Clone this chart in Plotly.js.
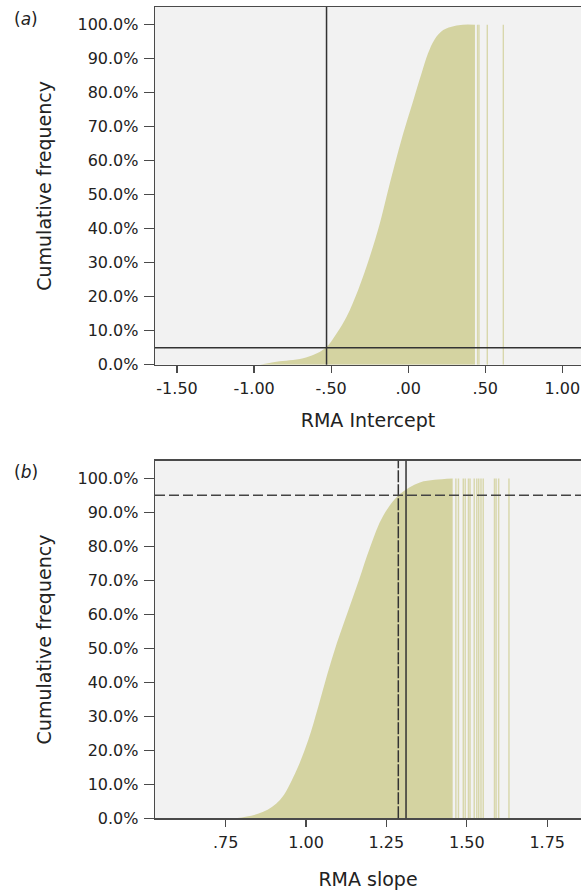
<!DOCTYPE html>
<html><head><meta charset="utf-8">
<script src="https://cdn.plot.ly/plotly-3.0.1.min.js"></script>
<style>html,body{margin:0;padding:0;background:#fff}#chart{width:581px;height:894px}</style>
</head><body><div id="chart"></div>
<script>
// (a) RMA Intercept – cumulative frequency outline (x, %)
const interceptX   = [-0.96, -0.855, -0.682, -0.541, -0.465, -0.40, -0.325, -0.249, -0.184, -0.138, -0.088, -0.034, 0.028, 0.085, 0.128, 0.170, 0.227, 0.30, 0.355, 0.433];
const interceptCum = [0,      0.9,    1.9,    4.8,    9.2,    14.1,  22.0,   31.8,   41.6,   50.0,   58.8,   67.8,   77.0,  85.5,  91.5,  95.6,  98.4,  99.6, 100,   100];
const interceptTailX   = [0.450, 0.459, 0.513, 0.617];
const interceptTailCum = [100, 100, 100, 100];
const interceptRefX = -0.53;
const interceptRefY = 5;

// (b) RMA slope
const slopeX   = [0.78, 0.816, 0.867, 0.919, 0.966, 1.007, 1.038, 1.066, 1.096, 1.130, 1.165, 1.199, 1.240, 1.292, 1.354, 1.40, 1.456];
const slopeCum = [0,    0.5,   1.9,   5.4,   13.2,  23.0,  32.8,  42.3,  51.6,  60.8,  70.2,  79.7,  89.0,  95.4,  98.8,  99.6, 100];
const slopeTailX   = [1.466, 1.474, 1.489, 1.495, 1.505, 1.510, 1.523, 1.531, 1.537, 1.544, 1.551, 1.586, 1.591, 1.599, 1.631];
const slopeTailCum = [100, 100, 100, 100, 100, 100, 100, 100, 100, 100, 100, 100, 100, 100, 100];
const slopeRefDashedX = 1.287;
const slopeRefSolidX  = 1.311;
const slopeRefY = 95;

// ticks
const yTickVals = [0, 10, 20, 30, 40, 50, 60, 70, 80, 90, 100];
const yTickText = ['0.0%', '10.0%', '20.0%', '30.0%', '40.0%', '50.0%', '60.0%', '70.0%', '80.0%', '90.0%', '100.0%'];
const interceptTickVals = [-1.5, -1.0, -0.5, 0, 0.5, 1.0];
const interceptTickText = ['-1.50', '-1.00', '-.50', '.00', '.50', '1.00'];
const slopeTickVals = [0.75, 1.0, 1.25, 1.5, 1.75];
const slopeTickText = ['.75', '1.00', '1.25', '1.50', '1.75'];

const FILL = '#d4d3a1';
const TAIL = '#d8d7ac';
const LINE = '#333333';
const AX = '#4a4a4a';
const FONT = 'DejaVu Sans';

const traces = [
  {x: interceptX, y: interceptCum, xaxis: 'x', yaxis: 'y', type: 'scatter', mode: 'lines',
   fill: 'tozeroy', fillcolor: FILL, line: {width: 0, color: FILL, shape: 'spline', smoothing: 1}, hoverinfo: 'skip'},
  {x: interceptTailX, y: interceptTailCum, xaxis: 'x', yaxis: 'y', type: 'bar',
   width: 0.009, marker: {color: TAIL, line: {width: 0}}, hoverinfo: 'skip'},
  {x: slopeX, y: slopeCum, xaxis: 'x2', yaxis: 'y2', type: 'scatter', mode: 'lines',
   fill: 'tozeroy', fillcolor: FILL, line: {width: 0, color: FILL, shape: 'spline', smoothing: 1}, hoverinfo: 'skip'},
  {x: slopeTailX, y: slopeTailCum, xaxis: 'x2', yaxis: 'y2', type: 'bar',
   width: 0.0045, marker: {color: TAIL, line: {width: 0}}, hoverinfo: 'skip'}
];

function xAxis(range, vals, text, title, anchor, standoff) {
  return {
    domain: [155/581, 1], anchor: anchor, range: range,
    tickmode: 'array', tickvals: vals, ticktext: text,
    ticks: 'outside', ticklen: 7, tickwidth: 1.3, tickcolor: AX,
    ticklabelstandoff: 2,
    showline: true, linecolor: AX, linewidth: 1.3, mirror: true,
    showgrid: false, zeroline: false,
    tickfont: {family: FONT, size: 16, color: '#222'},
    title: {text: title, font: {family: FONT, size: 19, color: '#222'}, standoff: standoff}
  };
}
function yAxis(domain, anchor) {
  return {
    domain: domain, anchor: anchor, range: [0, 105.2],
    tickmode: 'array', tickvals: yTickVals, ticktext: yTickText,
    ticks: 'outside', ticklen: 10, tickwidth: 1.3, tickcolor: AX,
    ticklabelstandoff: 2,
    showline: true, linecolor: AX, linewidth: 1.3, mirror: false,
    showgrid: false, zeroline: false,
    tickfont: {family: FONT, size: 16, color: '#222'},
    title: {text: 'Cumulative frequency', font: {family: FONT, size: 19, color: '#222'}, standoff: 20}
  };
}

const layout = {
  width: 581, height: 894,
  margin: {l: 0, r: 0, t: 0, b: 0},
  paper_bgcolor: '#ffffff', plot_bgcolor: '#f2f2f2',
  showlegend: false,
  font: {family: FONT, color: '#222'},
  xaxis: xAxis([-1.643, 1.121], interceptTickVals, interceptTickText, 'RMA Intercept', 'y', 16),
  yaxis: yAxis([1 - 364.7/894, 1 - 7/894], 'x'),
  xaxis2: xAxis([0.5305, 1.855], slopeTickVals, slopeTickText, 'RMA slope', 'y2', 22),
  yaxis2: yAxis([1 - 818.3/894, 1 - 460.7/894], 'x2'),
  shapes: [
    {type: 'line', xref: 'x', yref: 'y domain', x0: interceptRefX, x1: interceptRefX, y0: 0, y1: 1, line: {color: LINE, width: 1.5}},
    {type: 'line', xref: 'x domain', yref: 'y', x0: 0, x1: 1, y0: interceptRefY, y1: interceptRefY, line: {color: LINE, width: 1.5}},
    {type: 'line', xref: 'x2', yref: 'y2 domain', x0: slopeRefDashedX, x1: slopeRefDashedX, y0: 0, y1: 1, line: {color: LINE, width: 1.5, dash: '12px,2px'}},
    {type: 'line', xref: 'x2', yref: 'y2 domain', x0: slopeRefSolidX, x1: slopeRefSolidX, y0: 0, y1: 1, line: {color: LINE, width: 1.5}},
    {type: 'line', xref: 'x2 domain', yref: 'y2', x0: 0, x1: 1, y0: slopeRefY, y1: slopeRefY, line: {color: '#444', width: 1.5, dash: '10px,4px'}}
  ],
  annotations: [
    {text: '(<i>a</i>)', xref: 'paper', yref: 'paper', x: 12/581, y: 1 - 19/894, xanchor: 'left', yanchor: 'middle', showarrow: false, font: {family: FONT, size: 17, color: '#222'}},
    {text: '(<i>b</i>)', xref: 'paper', yref: 'paper', x: 12/581, y: 1 - 472/894, xanchor: 'left', yanchor: 'middle', showarrow: false, font: {family: FONT, size: 17, color: '#222'}}
  ]
};

Plotly.newPlot('chart', traces, layout, {staticPlot: true, displayModeBar: false});
</script>
</body></html>
